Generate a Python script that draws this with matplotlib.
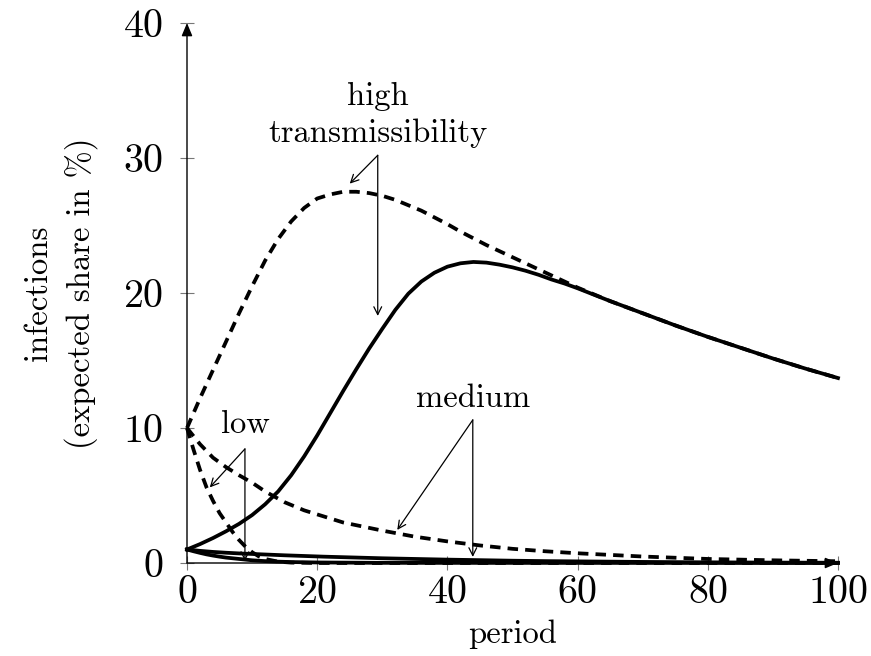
import numpy as np
import matplotlib
matplotlib.use('Agg')
import matplotlib.pyplot as plt

plt.rcParams['font.family'] = ['cmr10', 'DejaVu Serif']
plt.rcParams['mathtext.fontset'] = 'cm'
plt.rcParams['axes.formatter.use_mathtext'] = True

# values (period, expected share of infections in %)
high_period = [0, 2, 4, 6, 8, 10, 12, 14, 16, 18, 20, 22, 24, 26, 28, 30, 32, 34, 36,
               38, 40, 42, 44, 46, 48, 50, 52, 54, 56, 58, 60, 65, 70, 75, 80, 85, 90,
               95, 100]
high_dashed = [10.0, 12.2, 14.3, 16.4, 18.5, 20.5, 22.4, 24.0, 25.3, 26.3, 27.0, 27.3,
               27.5, 27.5, 27.4, 27.2, 26.9, 26.5, 26.1, 25.6, 25.1, 24.55, 24.05, 23.55,
               23.1, 22.65, 22.2, 21.75, 21.3, 20.85, 20.4, 19.4, 18.5, 17.6, 16.75,
               15.95, 15.15, 14.4, 13.7]
high_solid = [1.0, 1.4, 1.85, 2.35, 2.9, 3.55, 4.35, 5.3, 6.5, 7.9, 9.45, 11.1,
              12.75, 14.35, 15.9, 17.35, 18.75, 19.95, 20.85, 21.5, 21.95, 22.2, 22.3,
              22.25, 22.1, 21.9, 21.65, 21.35, 21.0, 20.7, 20.35, 19.4, 18.5, 17.6,
              16.75, 15.95, 15.15, 14.4, 13.7]

medium_period = [0, 1, 2, 4, 6, 8, 10, 12, 15, 18, 21, 24, 27, 30, 35, 40, 45, 50,
                 55, 60, 70, 80, 90, 100]
medium_dashed = [10.0, 9.4, 8.8, 7.8, 7.1, 6.5, 5.95, 5.3, 4.5, 3.9, 3.45, 3.0, 2.7,
                 2.4, 1.95, 1.6, 1.3, 1.05, 0.87, 0.72, 0.48, 0.3, 0.2, 0.13]
medium_solid = [1.0, 0.95, 0.9, 0.82, 0.76, 0.71, 0.67, 0.63, 0.57, 0.52, 0.47, 0.43,
                0.39, 0.35, 0.3, 0.25, 0.21, 0.17, 0.14, 0.12, 0.08, 0.05, 0.03, 0.02]

low_period = [0, 1, 2, 3, 4, 5, 6, 7, 8, 9, 10, 11, 12, 14, 16, 20, 30, 100]
low_dashed = [10.0, 8.4, 6.9, 5.6, 4.6, 3.7, 3.0, 2.3, 1.7, 1.2, 0.8, 0.5, 0.3,
              0.1, 0.03, 0.0, 0.0, 0.0]
low_solid = [1.0, 0.87, 0.75, 0.64, 0.55, 0.47, 0.4, 0.35, 0.3, 0.25, 0.2, 0.17,
             0.14, 0.1, 0.07, 0.04, 0.01, 0.0]

# annotations: label lines, baselines, arrow origin, arrow targets
notes = [
    (['high', 'transmissibility'], [33.9, 31.2], (29.3, 30.2), [(25.0, 28.1), (29.3, 18.3)]),
    (['medium'], [11.55], (43.9, 10.6), [(32.3, 2.45), (43.9, 0.45)]),
    (['low'], [9.6], (8.9, 8.45), [(3.5, 5.6), (8.9, 0.15)]),
]

fig = plt.figure(figsize=(8.71, 6.56), dpi=100)
ax = fig.add_axes([187 / 871, 93 / 656, 651 / 871, 540 / 656])

lw = 2.7
dash = (2.8, 1.9)
for p, d, s in [(high_period, high_dashed, high_solid),
                (medium_period, medium_dashed, medium_solid),
                (low_period, low_dashed, low_solid)]:
    ax.plot(p, s, color='black', lw=lw, solid_joinstyle='round', clip_on=False, zorder=3)
    ax.plot(p, d, color='black', lw=lw, dashes=dash, dash_capstyle='butt',
            clip_on=False, zorder=3)

for lines, bases, start, targets in notes:
    for txt, b in zip(lines, bases):
        ax.text(start[0], b, txt, ha='center', va='baseline', fontsize=23.5)
    for t in targets:
        ax.annotate('', xy=t, xytext=start,
                    arrowprops=dict(arrowstyle='->', lw=0.9, color='black',
                                    shrinkA=0, shrinkB=0, mutation_scale=14))

ax.set_xlim(0, 100)
ax.set_ylim(0, 40)
for sp in ax.spines.values():
    sp.set_visible(False)
for end in [(1, 0), (0, 1)]:
    ax.annotate('', xy=end, xytext=(0, 0), xycoords='axes fraction',
                arrowprops=dict(arrowstyle='-|>,head_length=0.6,head_width=0.25',
                                lw=1.0, color='#555555', fc='black', ec='black',
                                shrinkA=0, shrinkB=0, mutation_scale=13), zorder=4)

ax.set_xticks([0, 20, 40, 60, 80, 100])
ax.set_yticks([0, 10, 20, 30, 40])
ax.tick_params(direction='inout', length=10, width=0.8, color='#777777',
               labelsize=28.8, pad=4)
ax.tick_params(axis='y', pad=12)

ax.set_xlabel('period', fontsize=23.5, labelpad=6)
ax.set_ylabel('infections\n(expected share in %)', fontsize=23.5, labelpad=18,
              linespacing=1.45)

fig.savefig('out.png', dpi=100)
